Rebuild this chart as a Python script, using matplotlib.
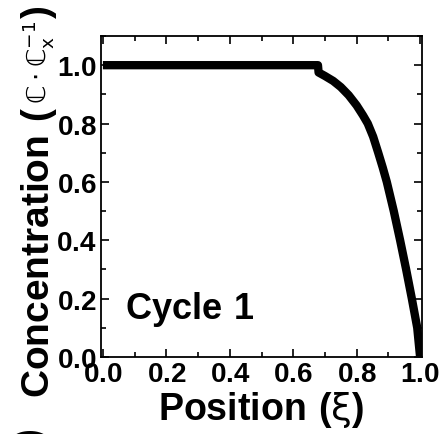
import matplotlib
matplotlib.use("Agg")
import matplotlib.pyplot as plt
from matplotlib.ticker import MultipleLocator

plt.rcParams['font.family'] = ['Liberation Sans', 'DejaVu Sans']
plt.rcParams['mathtext.fontset'] = 'custom'
plt.rcParams['mathtext.rm'] = 'DejaVu Sans:weight=normal'
plt.rcParams['mathtext.it'] = 'DejaVu Sans:italic:weight=normal'
plt.rcParams['mathtext.bf'] = 'Liberation Sans:weight=bold'
plt.rcParams['mathtext.sf'] = 'DejaVu Sans:weight=normal'

# Data
position = [0.0, 0.678, 0.680, 0.700, 0.726, 0.750, 0.775, 0.800, 0.820,
            0.835, 0.852, 0.868, 0.882, 0.895, 0.917, 0.937, 0.956, 0.974,
            0.991, 1.000]
concentration = [1.0, 1.0, 0.975, 0.963, 0.946, 0.925, 0.897, 0.862, 0.828,
                 0.800, 0.755, 0.700, 0.650, 0.600, 0.500, 0.400, 0.300,
                 0.200, 0.100, 0.000]
x_ticks = [0.0, 0.2, 0.4, 0.6, 0.8, 1.0]
y_ticks = [0.0, 0.2, 0.4, 0.6, 0.8, 1.0]
x_ticklabels = ["0.0", "0.2", "0.4", "0.6", "0.8", "1.0"]
y_ticklabels = ["0.0", "0.2", "0.4", "0.6", "0.8", "1.0"]
annotation = "Cycle 1"

W, H = 443, 435
fig = plt.figure(figsize=(W / 100, H / 100), dpi=100)
ax = fig.add_axes([101/W, 77/H, 321/W, 321/H])

ax.plot(position, concentration, color='black', lw=6, solid_capstyle='butt',
        solid_joinstyle='round')

ax.set_xlim(-0.006, 1.006)
ax.set_ylim(0.0, 1.1)
ax.set_xticks(x_ticks)
ax.set_yticks(y_ticks)
ax.xaxis.set_minor_locator(MultipleLocator(0.1))
ax.yaxis.set_minor_locator(MultipleLocator(0.1))
ax.tick_params(which='both', direction='in', top=True, right=True, width=1.2)
ax.tick_params(which='major', length=6, pad=3, labelsize=20)
ax.tick_params(which='minor', length=3.5)
ax.set_xticklabels([r"$\mathbf{%s}$" % t for t in x_ticklabels], fontsize=20)
ax.set_yticklabels([r"$\mathbf{%s}$" % t for t in y_ticklabels], fontsize=20)
for s in ax.spines.values():
    s.set_linewidth(1.3)

ax.set_xlabel(r"$\mathbf{Position\ (}\mathrm{\xi}\mathbf{)}$", fontsize=27,
              labelpad=1)

ax.text(0.07, 0.135, r"$\mathbf{%s}$" % annotation.replace(" ", r"\ "),
        fontsize=26, ha='left', va='baseline')

# y-axis title built from pieces so the unit part can be smaller and thin
renderer = fig.canvas.get_renderer()
base_x = 49 / W
t1 = fig.text(base_x, (H - 398) / H, r"$\mathbf{Concentration\ (}$",
              fontsize=28, rotation=90, rotation_mode='anchor',
              ha='left', va='baseline')
y1 = t1.get_window_extent(renderer).y1
t2 = fig.text(base_x - 2 / W, (y1 + 3) / H,
              r"$\mathrm{ℂ}\cdot\mathrm{ℂ}_{\mathrm{x}}^{-1}$",
              fontsize=19, rotation=90, rotation_mode='anchor',
              ha='left', va='baseline')
y2 = t2.get_window_extent(renderer).y1
fig.text(base_x, (y2 + 2) / H, r"$\mathbf{)}$",
         fontsize=28, rotation=90, rotation_mode='anchor',
         ha='left', va='baseline')

fig.text(31 / W, -0.002, r"$\mathbf{)}$", rotation=90, fontsize=28,
         ha='center', va='center')

fig.savefig("out.png", dpi=100)
